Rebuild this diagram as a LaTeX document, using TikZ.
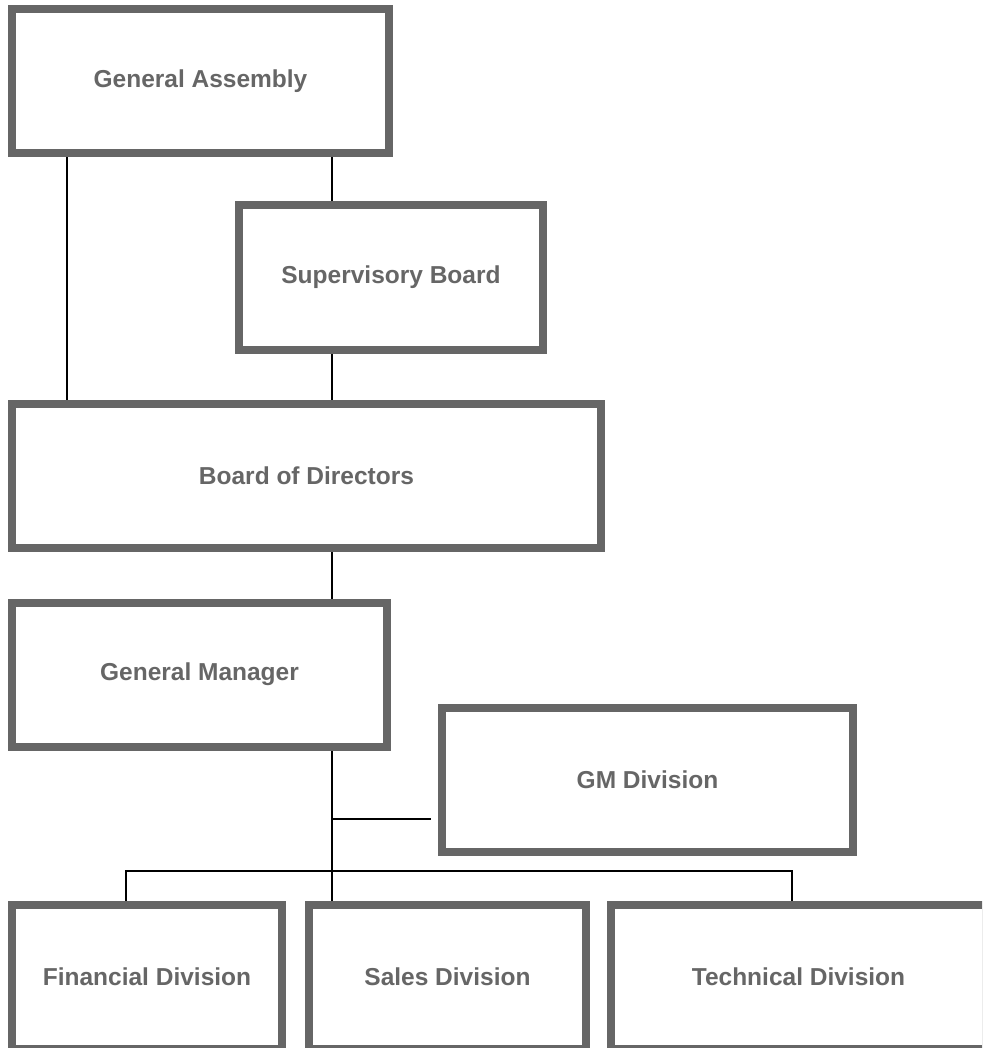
\documentclass[tikz,border=0pt]{standalone}
\usepackage{fontspec}
\setmainfont{Liberation Sans}
\usepackage{xcolor}
\usepackage{tikz}
\usetikzlibrary{backgrounds}
\definecolor{boxgray}{HTML}{666666}

\tikzset{
  orgbox/.style={draw=boxgray, line width=8pt, fill=white, inner sep=0pt,
    minimum height=144pt, text=boxgray,
    font=\fontsize{24.5}{29}\selectfont\bfseries},
  link/.style={draw=black, line width=2.2pt}
}

\begin{document}
\begin{tikzpicture}[x=1pt, y=-1pt]
  \useasboundingbox (0,0) rectangle (982,1048);
  \clip (0,0) rectangle (982,1048);

  % boards
  \node[orgbox, minimum width=377pt] (assembly) at (200.5,81) {General Assembly};
  \node[orgbox, minimum width=304pt] (board) at (391,277.5) {Supervisory Board};
  \node[orgbox, minimum width=589pt] (directors) at (306.5,476) {Board of Directors};
  \node[orgbox, minimum width=375pt] (manager) at (199.5,674.5) {General Manager};
  \node[orgbox, minimum width=411pt] (gmdiv) at (647.5,780) {GM Division};

  % divisions
  \node[orgbox, minimum width=270pt] (financial) at (147,976.5) {Financial Division};
  \node[orgbox, minimum width=277pt] (sales) at (447.5,976.5) {Sales Division};
  \node[orgbox, minimum width=375pt] (technical) at (798.5,976.5) {Technical Division};

  \coordinate (spine) at (332,0);
  \coordinate (bus) at (0,871);
  \coordinate (branch) at (431,819);
  \coordinate (fin top) at ([xshift=-21pt]financial.north);
  \coordinate (tech top) at ([xshift=-6.5pt]technical.north);

  \begin{scope}[on background layer]
    \draw[link] ([xshift=59pt]assembly.south west) -- ([xshift=59pt]directors.north west);
    \draw[link] (assembly.south -| spine) -- (board.north -| spine);
    \draw[link] (board.south -| spine) -- (directors.north -| spine);
    \draw[link] (directors.south -| spine) -- (manager.north -| spine);
    \draw[link] (manager.south -| spine) -- (sales.north -| spine);
    \draw[link] (spine |- branch) -- (branch);
    \draw[link] (fin top) |- (tech top |- bus) -- (tech top);
  \end{scope}
\end{tikzpicture}
\end{document}
